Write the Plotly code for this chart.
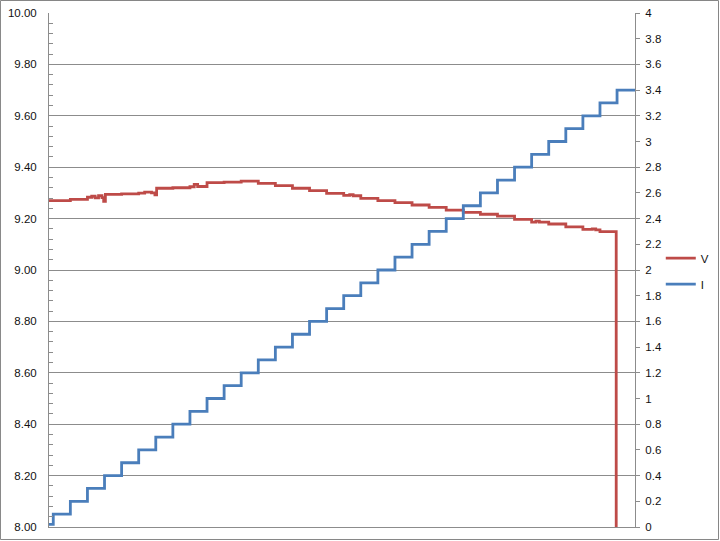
import plotly.graph_objects as go

# Time axis (arbitrary sample units) and series
v_t = [0, 12.5, 22.5, 25, 27, 29, 31, 32, 33, 42.5, 52.5, 56, 60, 62, 63,
       72.5, 82.5, 85, 87, 92.5, 102.5, 112.5, 122.5, 132.5, 142.5, 152.5,
       162.5, 172.5, 176, 178, 182.5, 192.5, 202.5, 212.5, 222.5, 232.5,
       242.5, 252.5, 262.5, 272.5, 282.5, 285, 287, 292.5, 302.5, 312.5,
       318, 320, 322.5, 332, 332]
v_vals = [9.270, 9.275, 9.283, 9.287, 9.281, 9.289, 9.282, 9.267, 9.294,
          9.296, 9.299, 9.303, 9.300, 9.292, 9.318, 9.320, 9.324, 9.333,
          9.325, 9.340, 9.342, 9.346, 9.337, 9.328, 9.318, 9.309, 9.298,
          9.290, 9.293, 9.289, 9.279, 9.270, 9.262, 9.253, 9.244, 9.233,
          9.224, 9.217, 9.210, 9.197, 9.186, 9.190, 9.186, 9.179, 9.168,
          9.158, 9.160, 9.156, 9.149, 9.149, 7.0]

i_t = [0, 2.5, 12.5, 22.5, 32.5, 42.5, 52.5, 62.5, 72.5, 82.5, 92.5,
       102.5, 112.5, 122.5, 132.5, 142.5, 152.5, 162.5, 172.5, 182.5,
       192.5, 202.5, 212.5, 222.5, 232.5, 242.5, 252.5, 262.5, 272.5,
       282.5, 292.5, 302.5, 312.5, 322.5, 332.5, 343]
i_vals = [0.02, 0.1, 0.2, 0.3, 0.4, 0.5, 0.6, 0.7, 0.8, 0.9, 1.0,
          1.1, 1.2, 1.3, 1.4, 1.5, 1.6, 1.7, 1.8, 1.9, 2.0,
          2.1, 2.2, 2.3, 2.4, 2.5, 2.6, 2.7, 2.8, 2.9, 3.0,
          3.1, 3.2, 3.3, 3.4, 3.4]

left_range = [8, 10]
right_range = [0, 4]

RED = "#BE4B48"
BLUE = "#4A7EBB"
GRID = "#8C8C8C"
FONT = "Liberation Sans"

fig = go.Figure()
fig.add_trace(go.Scatter(x=v_t, y=v_vals, name="V", mode="lines",
                         line=dict(color=RED, width=2.8, shape="hv"),
                         legendgroup="v", yaxis="y"))
fig.add_trace(go.Scatter(x=i_t, y=i_vals, name="I", mode="lines",
                         line=dict(color=BLUE, width=2.8, shape="hv"),
                         legendgroup="i", yaxis="y2"))

fig.update_layout(
    width=720, height=541,
    margin=dict(l=49, r=85, t=13, b=14, autoexpand=False),
    paper_bgcolor="white", plot_bgcolor="white",
    font=dict(family=FONT, size=11.5, color="#111111"),
    xaxis=dict(range=[0, 343], showgrid=False, zeroline=False,
               showticklabels=False, ticks="", showline=True,
               linecolor=GRID, linewidth=1, automargin=False),
    yaxis=dict(range=left_range, dtick=0.2, tickformat=".2f",
               showgrid=True, gridcolor=GRID, gridwidth=1, zeroline=False,
               showline=True, linecolor=GRID, linewidth=1, ticks="",
               ticklabelstandoff=9, automargin=False,
               minor=dict(dtick=0.04, ticks="inside", ticklen=4,
                          tickcolor=GRID, showgrid=False)),
    yaxis2=dict(range=right_range, dtick=0.2, overlaying="y", side="right",
                showgrid=False, zeroline=False, showline=True,
                linecolor=GRID, linewidth=1, ticks="outside", ticklen=4,
                tickcolor=GRID, ticklabelstandoff=3, automargin=False),
    legend=dict(x=1.044, xanchor="left", y=0.498, yanchor="middle",
                tracegroupgap=7, font=dict(size=11.5, family=FONT),
                itemwidth=30,
                bgcolor="rgba(0,0,0,0)"),
    shapes=[dict(type="rect", xref="paper", yref="paper",
                 x0=-0.0828, x1=1.1425, y0=-0.0243, y1=1.0243,
                 line=dict(color="#868686", width=1))],
)

fig.write_html("out.html",
               config={"displayModeBar": False},
               post_script="document.body.style.margin='0px';"
                           "document.body.style.overflow='hidden';")
